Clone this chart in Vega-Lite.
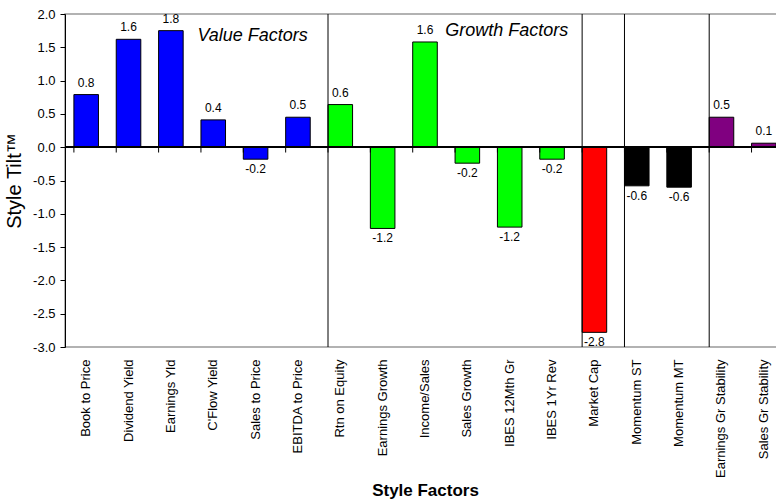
{
  "$schema": "https://vega.github.io/schema/vega-lite/v6.json",
  "autosize": {"type": "none"},
  "padding": {"left": 65, "top": 14, "right": 0, "bottom": 152},
  "width": 720,
  "height": 333,
  "config": {
    "view": {"stroke": "#999999", "strokeWidth": 1.5},
    "font": "Liberation Sans",
    "locale": {"number": {"decimal": ".", "thousands": ",", "grouping": [3], "currency": ["$", ""], "minus": "-"}}
  },
  "datasets": {
    "tilts": [
      {"factor": "Book to Price", "v": 0.79, "group": "Value"},
      {"factor": "Dividend Yield", "v": 1.62, "group": "Value"},
      {"factor": "Earnings Yld", "v": 1.75, "group": "Value"},
      {"factor": "C'Flow Yield", "v": 0.41, "group": "Value"},
      {"factor": "Sales to Price", "v": -0.18, "group": "Value"},
      {"factor": "EBITDA to Price", "v": 0.45, "group": "Value"},
      {"factor": "Rtn on Equity", "v": 0.64, "group": "Growth"},
      {"factor": "Earnings Growth", "v": -1.22, "group": "Growth"},
      {"factor": "Income/Sales", "v": 1.58, "group": "Growth"},
      {"factor": "Sales Growth", "v": -0.24, "group": "Growth"},
      {"factor": "IBES 12Mth Gr", "v": -1.2, "group": "Growth"},
      {"factor": "IBES 1Yr Rev", "v": -0.18, "group": "Growth"},
      {"factor": "Market Cap", "v": -2.78, "group": "Size"},
      {"factor": "Momentum ST", "v": -0.58, "group": "Momentum"},
      {"factor": "Momentum MT", "v": -0.6, "group": "Momentum"},
      {"factor": "Earnings Gr Stability", "v": 0.45, "group": "Stability"},
      {"factor": "Sales Gr Stability", "v": 0.06, "group": "Stability"}
    ],
    "separators": [
      {"factor": "Rtn on Equity"},
      {"factor": "Market Cap"},
      {"factor": "Momentum ST"},
      {"factor": "Earnings Gr Stability"}
    ],
    "notes": [
      {"factor": "Sales to Price", "v": 1.67, "note": "Value Factors"},
      {"factor": "IBES 12Mth Gr", "v": 1.74, "note": "Growth Factors"}
    ]
  },
  "encoding": {
    "x": {
      "field": "factor",
      "type": "nominal",
      "scale": {
        "domain": ["Book to Price", "Dividend Yield", "Earnings Yld", "C'Flow Yield", "Sales to Price", "EBITDA to Price", "Rtn on Equity", "Earnings Growth", "Income/Sales", "Sales Growth", "IBES 12Mth Gr", "IBES 1Yr Rev", "Market Cap", "Momentum ST", "Momentum MT", "Earnings Gr Stability", "Sales Gr Stability"],
        "paddingInner": 0.42,
        "paddingOuter": 0.21
      },
      "axis": {
        "title": "Style Factors",
        "titleFont": "Liberation Sans",
        "titleFontSize": 17,
        "titleFontWeight": "bold",
        "titleColor": "black",
        "titleY": 148,
        "titleBaseline": "alphabetic",
        "labelAngle": -90,
        "labelFontSize": 13,
        "labelColor": "black",
        "labelPadding": 12,
        "labelOverlap": false,
        "labelLimit": 200,
        "ticks": false,
        "domain": false
      }
    },
    "y": {
      "field": "v",
      "type": "quantitative",
      "scale": {"domain": [-3, 2], "nice": false},
      "axis": {
        "title": "Style Tilt™",
        "values": [-3, -2.5, -2, -1.5, -1, -0.5, 0, 0.5, 1, 1.5, 2],
        "labelOverlap": false,
        "format": ".1f",
        "labelFontSize": 13,
        "labelColor": "black",
        "labelPadding": 5,
        "tickSize": 5,
        "tickColor": "black",
        "domainColor": "black",
        "grid": false,
        "titleFontSize": 20,
        "titleFontWeight": "normal",
        "titleColor": "black",
        "titlePadding": 8
      }
    }
  },
  "layer": [
    {
      "data": {"name": "tilts"},
      "mark": {"type": "bar", "stroke": "black", "strokeWidth": 1},
      "encoding": {
        "color": {
          "field": "group",
          "type": "nominal",
          "scale": {"domain": ["Value", "Growth", "Size", "Momentum", "Stability"], "range": ["#0000FF", "#00FF00", "#FF0000", "#000000", "#800080"]},
          "legend": null
        }
      }
    },
    {
      "data": {"name": "tilts"},
      "mark": {"type": "rule", "color": "black", "strokeWidth": 1},
      "encoding": {
        "x": null,
        "y": {
          "datum": 0,
          "type": "quantitative",
          "axis": {
            "title": "Style Tilt™",
            "values": [-3, -2.5, -2, -1.5, -1, -0.5, 0, 0.5, 1, 1.5, 2],
            "labelOverlap": false,
            "format": ".1f",
            "labelFontSize": 13,
            "labelColor": "black",
            "labelPadding": 5,
            "tickSize": 5,
            "tickColor": "black",
            "domainColor": "black",
            "grid": false,
            "titleFontSize": 20,
            "titleFontWeight": "normal",
            "titleColor": "black",
            "titlePadding": 8
          }
        }
      }
    },
    {
      "data": {"name": "tilts"},
      "mark": {"type": "rule", "color": "black", "strokeWidth": 1},
      "encoding": {
        "x": {"field": "factor", "type": "nominal", "bandPosition": 0},
        "y": {
          "datum": 0,
          "type": "quantitative",
          "axis": {
            "title": "Style Tilt™",
            "values": [-3, -2.5, -2, -1.5, -1, -0.5, 0, 0.5, 1, 1.5, 2],
            "labelOverlap": false,
            "format": ".1f",
            "labelFontSize": 13,
            "labelColor": "black",
            "labelPadding": 5,
            "tickSize": 5,
            "tickColor": "black",
            "domainColor": "black",
            "grid": false,
            "titleFontSize": 20,
            "titleFontWeight": "normal",
            "titleColor": "black",
            "titlePadding": 8
          }
        },
        "y2": {"datum": -0.08}
      }
    },
    {
      "data": {"name": "separators"},
      "mark": {"type": "rule", "color": "black", "strokeWidth": 1},
      "encoding": {
        "x": {"field": "factor", "type": "nominal", "bandPosition": 0},
        "y": null
      }
    },
    {
      "data": {"name": "tilts"},
      "transform": [{"filter": "datum.v >= 0"}],
      "mark": {"type": "text", "baseline": "bottom", "dy": -5, "fontSize": 12, "color": "black"},
      "encoding": {
        "text": {"field": "v", "type": "quantitative", "format": ".1f"}
      }
    },
    {
      "data": {"name": "tilts"},
      "transform": [{"filter": "datum.v < 0"}],
      "mark": {"type": "text", "baseline": "top", "dy": 5, "fontSize": 12, "color": "black"},
      "encoding": {
        "text": {"field": "v", "type": "quantitative", "format": ".1f"}
      }
    },
    {
      "data": {"name": "notes"},
      "mark": {"type": "text", "fontSize": 18, "fontStyle": "italic", "baseline": "middle", "color": "black", "dx": -3},
      "encoding": {
        "text": {"field": "note", "type": "nominal"}
      }
    }
  ]
}
